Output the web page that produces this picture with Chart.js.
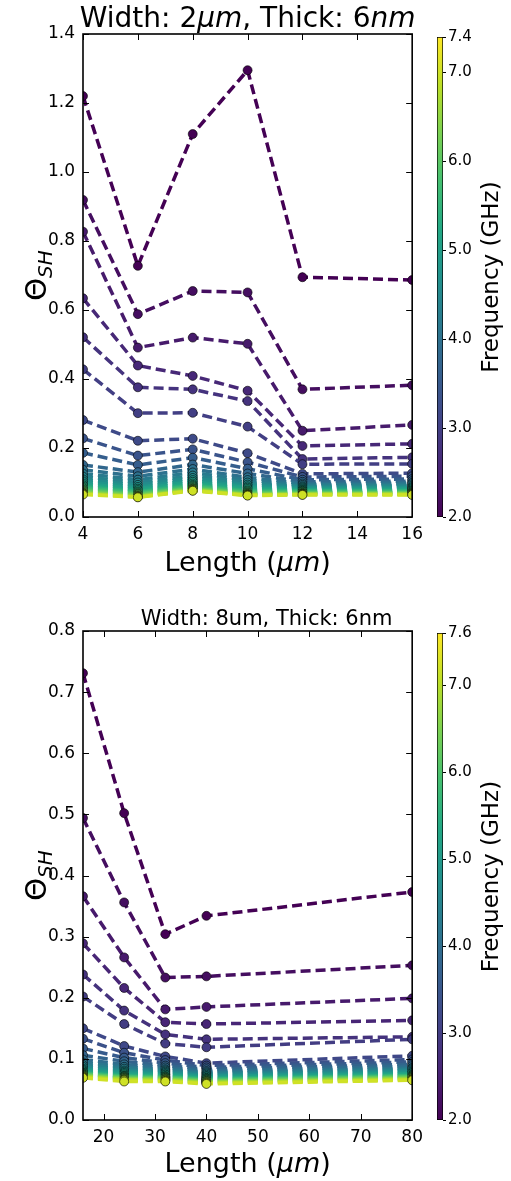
<!DOCTYPE html>
<html>
<head>
<meta charset="utf-8">
<script src="https://cdn.jsdelivr.net/npm/chart.js@4.4.1/dist/chart.umd.min.js"></script>
<style>
  html, body { margin: 0; padding: 0; background: #fff; }
  #wrap { position: relative; width: 511px; height: 1181px; }
  canvas { position: absolute; }
</style>
</head>
<body>
<div id="wrap">
  <canvas id="top" width="430" height="580" style="left:0;top:0"></canvas>
  <canvas id="topBar" width="91" height="580" style="left:420px;top:0"></canvas>
  <canvas id="bot" width="430" height="591" style="left:0;top:590px"></canvas>
  <canvas id="botBar" width="91" height="591" style="left:420px;top:590px"></canvas>
</div>
<script>
// --- top panel: width 2um ---
const topLengths = [4, 6, 8, 10, 12, 16]
const topFreqs = [2.0, 2.2, 2.4, 2.6, 2.8, 3.0, 3.2, 3.4, 3.6, 3.8, 4.0, 4.2, 4.4,
  4.6, 4.8, 5.0, 5.2, 5.4, 5.6, 5.8, 6.0, 6.2, 6.4, 6.6, 6.8, 7.0]
const topTheta = [
  [1.220, 0.728, 1.110, 1.295, 0.695, 0.687],
  [0.919, 0.588, 0.655, 0.651, 0.370, 0.382],
  [0.827, 0.491, 0.520, 0.502, 0.250, 0.267],
  [0.634, 0.439, 0.409, 0.366, 0.206, 0.212],
  [0.521, 0.376, 0.370, 0.336, 0.168, 0.173],
  [0.428, 0.301, 0.302, 0.262, 0.153, 0.154],
  [0.281, 0.221, 0.227, 0.185, 0.125, 0.127],
  [0.228, 0.178, 0.196, 0.159, 0.116, 0.118],
  [0.186, 0.151, 0.172, 0.140, 0.108, 0.110],
  [0.151, 0.130, 0.152, 0.126, 0.102, 0.104],
  [0.137, 0.118, 0.139, 0.115, 0.097, 0.099],
  [0.126, 0.108, 0.129, 0.107, 0.093, 0.095],
  [0.117, 0.100, 0.120, 0.100, 0.089, 0.091],
  [0.109, 0.093, 0.113, 0.094, 0.086, 0.087],
  [0.103, 0.087, 0.107, 0.089, 0.083, 0.084],
  [0.097, 0.082, 0.102, 0.085, 0.080, 0.081],
  [0.092, 0.078, 0.097, 0.081, 0.078, 0.078],
  [0.088, 0.074, 0.093, 0.077, 0.076, 0.076],
  [0.084, 0.071, 0.090, 0.074, 0.074, 0.074],
  [0.080, 0.068, 0.087, 0.071, 0.072, 0.072],
  [0.077, 0.066, 0.084, 0.069, 0.070, 0.070],
  [0.074, 0.063, 0.082, 0.067, 0.068, 0.069],
  [0.071, 0.061, 0.080, 0.065, 0.067, 0.067],
  [0.069, 0.059, 0.078, 0.064, 0.066, 0.066],
  [0.067, 0.058, 0.077, 0.063, 0.065, 0.065],
  [0.065, 0.057, 0.076, 0.062, 0.064, 0.064],
]
const topXTicks = [4, 6, 8, 10, 12, 14, 16]
const topYTicks = [0, 0.2, 0.4, 0.6, 0.8, 1.0, 1.2, 1.4]
const topBarTicks = [2.0, 3.0, 4.0, 5.0, 6.0, 7.0, 7.4]

// --- bottom panel: width 8um ---
const botLengths = [16, 24, 32, 40, 80]
const botFreqs = [2.0, 2.2, 2.4, 2.6, 2.8, 3.0, 3.2, 3.4, 3.6, 3.8, 4.0, 4.2, 4.4,
  4.6, 4.8, 5.0, 5.2, 5.4, 5.6, 5.8, 6.0, 6.2, 6.4, 6.6, 6.8, 7.0, 7.2]
const botTheta = [
  [0.731, 0.502, 0.304, 0.334, 0.373],
  [0.494, 0.356, 0.233, 0.235, 0.253],
  [0.366, 0.266, 0.181, 0.185, 0.199],
  [0.289, 0.216, 0.160, 0.157, 0.163],
  [0.238, 0.179, 0.140, 0.132, 0.136],
  [0.202, 0.157, 0.125, 0.119, 0.132],
  [0.150, 0.121, 0.104, 0.093, 0.105],
  [0.133, 0.110, 0.098, 0.089, 0.099],
  [0.117, 0.102, 0.093, 0.086, 0.095],
  [0.106, 0.096, 0.089, 0.083, 0.091],
  [0.099, 0.091, 0.086, 0.080, 0.088],
  [0.094, 0.087, 0.083, 0.078, 0.085],
  [0.090, 0.084, 0.081, 0.076, 0.083],
  [0.087, 0.081, 0.079, 0.074, 0.081],
  [0.084, 0.079, 0.077, 0.072, 0.079],
  [0.082, 0.077, 0.075, 0.071, 0.077],
  [0.080, 0.075, 0.074, 0.069, 0.076],
  [0.078, 0.073, 0.072, 0.068, 0.074],
  [0.077, 0.072, 0.071, 0.067, 0.073],
  [0.076, 0.071, 0.070, 0.066, 0.072],
  [0.075, 0.070, 0.069, 0.065, 0.071],
  [0.074, 0.069, 0.068, 0.064, 0.070],
  [0.073, 0.068, 0.067, 0.063, 0.069],
  [0.072, 0.067, 0.066, 0.062, 0.068],
  [0.071, 0.066, 0.065, 0.061, 0.067],
  [0.070, 0.065, 0.064, 0.060, 0.066],
  [0.069, 0.063, 0.063, 0.059, 0.065],
]
const botXTicks = [20, 30, 40, 50, 60, 70, 80]
const botYTicks = [0, 0.1, 0.2, 0.3, 0.4, 0.5, 0.6, 0.7, 0.8]
const botBarTicks = [2.0, 3.0, 4.0, 5.0, 6.0, 7.0, 7.6]

Chart.defaults.font.family = "'DejaVu Sans', sans-serif"
Chart.defaults.color = "#000"

const VIRIDIS = ["#440154", "#482475", "#414487", "#355f8d", "#2a788e", "#21918c",
  "#22a884", "#44bf70", "#7ad151", "#bddf26", "#fde725"]

function hex(h) {
  return [1, 3, 5].map((k) => parseInt(h.slice(k, k + 2), 16))
}

function viridis(t) {
  t = Math.min(1, Math.max(0, t))
  const p = t * (VIRIDIS.length - 1)
  const i = Math.min(VIRIDIS.length - 2, Math.floor(p))
  const f = p - i
  const a = hex(VIRIDIS[i])
  const b = hex(VIRIDIS[i + 1])
  const c = a.map((v, k) => Math.round(v + (b[k] - v) * f))
  return `rgb(${c[0]},${c[1]},${c[2]})`
}

// draw a row of text pieces centred on (cx, baseline cy)
function rich(ctx, segs, cx, cy, rot) {
  ctx.save()
  ctx.translate(cx, cy)
  ctx.rotate(rot)
  ctx.fillStyle = "#000"
  ctx.textBaseline = "alphabetic"
  ctx.textAlign = "left"
  let w = 0
  segs.forEach((s) => {
    ctx.font = s.font
    w += ctx.measureText(s.text).width
  })
  let x = -w / 2
  segs.forEach((s) => {
    ctx.font = s.font
    ctx.fillText(s.text, x, s.dy || 0)
    x += ctx.measureText(s.text).width
  })
  ctx.restore()
}

const FONT = "'DejaVu Sans'"

// box, inward ticks on all four sides, title and axis labels
const framePlugin = {
  id: "frame",
  afterDraw(chart, args, o) {
    const { ctx, chartArea: a, scales } = chart
    ctx.save()
    ctx.strokeStyle = "#000"
    ctx.lineWidth = 1
    const seg = (x1, y1, x2, y2) => {
      ctx.beginPath()
      ctx.moveTo(x1, y1)
      ctx.lineTo(x2, y2)
      ctx.stroke()
    }
    scales.x.ticks.forEach((t) => {
      const px = Math.round(scales.x.getPixelForValue(t.value)) + 0.5
      seg(px, a.bottom, px, a.bottom - 6)
      seg(px, a.top, px, a.top + 6)
    })
    scales.y.ticks.forEach((t) => {
      const py = Math.round(scales.y.getPixelForValue(t.value)) + 0.5
      seg(a.left, py, a.left + 6, py)
      seg(a.right, py, a.right - 6, py)
    })
    ctx.lineWidth = 1.6
    ctx.strokeRect(a.left, a.top, a.right - a.left, a.bottom - a.top)
    const mid = (a.left + a.right) / 2
    rich(ctx, o.title, mid + (o.titleShift || 0), o.titleY, 0)
    rich(ctx, o.xLabel, mid, o.xLabelY, 0)
    rich(ctx, o.yLabel, o.yLabelX, (a.top + a.bottom) / 2, -Math.PI / 2)
    ctx.restore()
  },
}

const cbTitlePlugin = {
  id: "cbTitle",
  afterDraw(chart) {
    const a = chart.chartArea
    rich(chart.ctx, [{ text: "Frequency (GHz)", font: `23px ${FONT}` }],
      78, (a.top + a.bottom) / 2, -Math.PI / 2)
  },
}

function makeMain(id, lengths, freqs, theta, fmin, fmax, xTicks, yTicks, setup) {
  const n = freqs.length
  const datasets = freqs.map((f, i) => {
    const c = viridis((f - fmin) / (fmax - fmin))
    return {
      data: lengths.map((x, j) => ({ x, y: theta[i][j] })),
      borderColor: c,
      backgroundColor: c,
      pointBackgroundColor: c,
      pointBorderColor: "#000",
      pointBorderWidth: 0.6,
      pointRadius: 4.5,
      borderWidth: 3.5,
      borderDash: [10, 5],
      showLine: true,
      fill: false,
      tension: 0,
      clip: 0,
      order: n - i,
    }
  })

  new Chart(document.getElementById(id), {
    type: "line",
    data: { datasets },
    options: {
      animation: false,
      responsive: false,
      devicePixelRatio: 1,
      layout: { padding: { top: setup.padTop, right: 17, left: 0, bottom: 0 } },
      plugins: {
        legend: { display: false },
        tooltip: { enabled: false },
        frame: setup.frame,
      },
      scales: {
        x: {
          type: "linear",
          min: xTicks[0] < lengths[0] ? xTicks[0] : lengths[0],
          max: xTicks[xTicks.length - 1],
          afterBuildTicks: (s) => {
            s.ticks = xTicks.map((v) => ({ value: v }))
          },
          afterFit: (s) => {
            s.height = setup.xHeight
          },
          grid: { display: false, drawTicks: false },
          border: { display: false },
          ticks: { padding: 7, font: { size: 17 }, maxRotation: 0, callback: (v) => String(v) },
        },
        y: {
          min: yTicks[0],
          max: yTicks[yTicks.length - 1],
          afterBuildTicks: (s) => {
            s.ticks = yTicks.map((v) => ({ value: v }))
          },
          afterFit: (s) => {
            s.width = 83
          },
          grid: { display: false, drawTicks: false },
          border: { display: false },
          ticks: { padding: 8, font: { size: 17 }, callback: (v) => v.toFixed(1) },
        },
      },
    },
    plugins: [framePlugin],
  })
}

function makeBar(id, fmin, fmax, ticks, padTop, padBottom) {
  new Chart(document.getElementById(id), {
    type: "bar",
    data: {
      labels: [""],
      datasets: [
        {
          data: [[fmin, fmax]],
          backgroundColor: (c) => {
            const a = c.chart.chartArea
            if (!a) return "#888"
            const g = c.chart.ctx.createLinearGradient(0, a.bottom, 0, a.top)
            VIRIDIS.forEach((col, k) => g.addColorStop(k / (VIRIDIS.length - 1), col))
            return g
          },
          borderColor: "#000",
          borderWidth: 1,
          borderSkipped: false,
          barPercentage: 1,
          categoryPercentage: 1,
        },
      ],
    },
    options: {
      animation: false,
      responsive: false,
      devicePixelRatio: 1,
      layout: { padding: { top: padTop, bottom: padBottom, left: 17, right: 0 } },
      plugins: { legend: { display: false }, tooltip: { enabled: false } },
      scales: {
        x: { display: false },
        y: {
          position: "right",
          min: fmin,
          max: fmax,
          afterBuildTicks: (s) => {
            s.ticks = ticks.map((v) => ({ value: v }))
          },
          afterFit: (s) => {
            s.width = 68
          },
          grid: { drawOnChartArea: false, tickLength: 3, color: "#000" },
          border: { display: false },
          ticks: { padding: 2, font: { size: 15 }, callback: (v) => v.toFixed(1) },
        },
      },
    },
    plugins: [cbTitlePlugin],
  })
}

const yLabel = [
  { text: "Θ", font: `29px ${FONT}` },
  { text: "SH", font: `italic 20px ${FONT}`, dy: 6 },
]

makeMain("top", topLengths, topFreqs, topTheta, 2.0, 7.4, topXTicks, topYTicks, {
  padTop: 34,
  xHeight: 63,
  frame: {
    title: [
      { text: "Width: 2", font: `28px ${FONT}` },
      { text: "μm", font: `italic 28px ${FONT}` },
      { text: ", Thick: 6", font: `28px ${FONT}` },
      { text: "nm", font: `italic 28px ${FONT}` },
    ],
    titleY: 27,
    xLabel: [
      { text: "Length (", font: `27px ${FONT}` },
      { text: "μm", font: `italic 27px ${FONT}` },
      { text: ")", font: `27px ${FONT}` },
    ],
    xLabelY: 571,
    yLabel,
    yLabelX: 46,
  },
})

makeMain("bot", botLengths, botFreqs, botTheta, 2.0, 7.6, botXTicks, botYTicks, {
  padTop: 41,
  xHeight: 61,
  frame: {
    title: [{ text: "Width: 8um, Thick: 6nm", font: `21px ${FONT}` }],
    titleY: 35,
    titleShift: 19,
    xLabel: [
      { text: "Length (", font: `27px ${FONT}` },
      { text: "μm", font: `italic 27px ${FONT}` },
      { text: ")", font: `27px ${FONT}` },
    ],
    xLabelY: 582,
    yLabel,
    yLabelX: 46,
  },
})

makeBar("topBar", 2.0, 7.4, topBarTicks, 37, 63)
makeBar("botBar", 2.0, 7.6, botBarTicks, 43, 61)
</script>
</body>
</html>
